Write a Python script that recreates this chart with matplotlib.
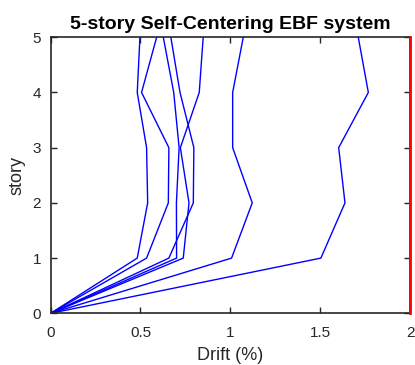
import numpy as np
import matplotlib
matplotlib.use('Agg')
import matplotlib.pyplot as plt

plt.rcParams['font.family'] = ['Liberation Sans', 'DejaVu Sans']

story = [0, 1, 2, 3, 4, 5]

# peak interstory drift (%) per story, one list per record
drift_1 = [0, 0.482, 0.540, 0.534, 0.482, 0.497]
drift_2 = [0, 0.534, 0.655, 0.658, 0.506, 0.590]
drift_3 = [0, 0.701, 0.700, 0.715, 0.685, 0.627]
drift_4 = [0, 0.658, 0.794, 0.797, 0.720, 0.669]
drift_5 = [0, 0.738, 0.770, 0.722, 0.827, 0.849]
drift_6 = [0, 1.007, 1.122, 1.013, 1.013, 1.072]
drift_7 = [0, 1.504, 1.638, 1.603, 1.768, 1.712]

limit_drift = [2, 2]
limit_story = [0, 5]

fig = plt.figure(figsize=(4.15, 3.65), dpi=100)
ax = fig.add_axes([0.122, 0.1416, 0.866, 0.7564])

for d in [drift_1, drift_2, drift_3, drift_4, drift_5, drift_6, drift_7]:
    ax.plot(d, story, color='#0000FF', lw=1.0)

ax.plot(limit_drift, limit_story, color='#FF0000', lw=2.0, clip_on=False, zorder=5)

ax.set_xlim(0, 2)
ax.set_ylim(0, 5)
ax.set_xticks([0, 0.5, 1, 1.5, 2])
ax.set_xticklabels(['0', '0.5', '1', '1.5', '2'])
ax.set_yticks([0, 1, 2, 3, 4, 5])

ax.tick_params(direction='in', top=True, right=True, length=4, width=1,
               labelsize=11, colors='#262626')
ax.tick_params(axis='x', pad=9)
ax.tick_params(axis='y', pad=7)
for s in ax.spines.values():
    s.set_color('#262626')
    s.set_linewidth(1.2)

ax.set_title('5-story Self-Centering EBF system', fontsize=14, fontweight='bold', pad=6)
ax.set_xlabel('Drift (%)', fontsize=13, color='#262626', labelpad=5)
ax.set_ylabel('story', fontsize=13, color='#262626', labelpad=5)

fig.savefig('out.png', dpi=100)
